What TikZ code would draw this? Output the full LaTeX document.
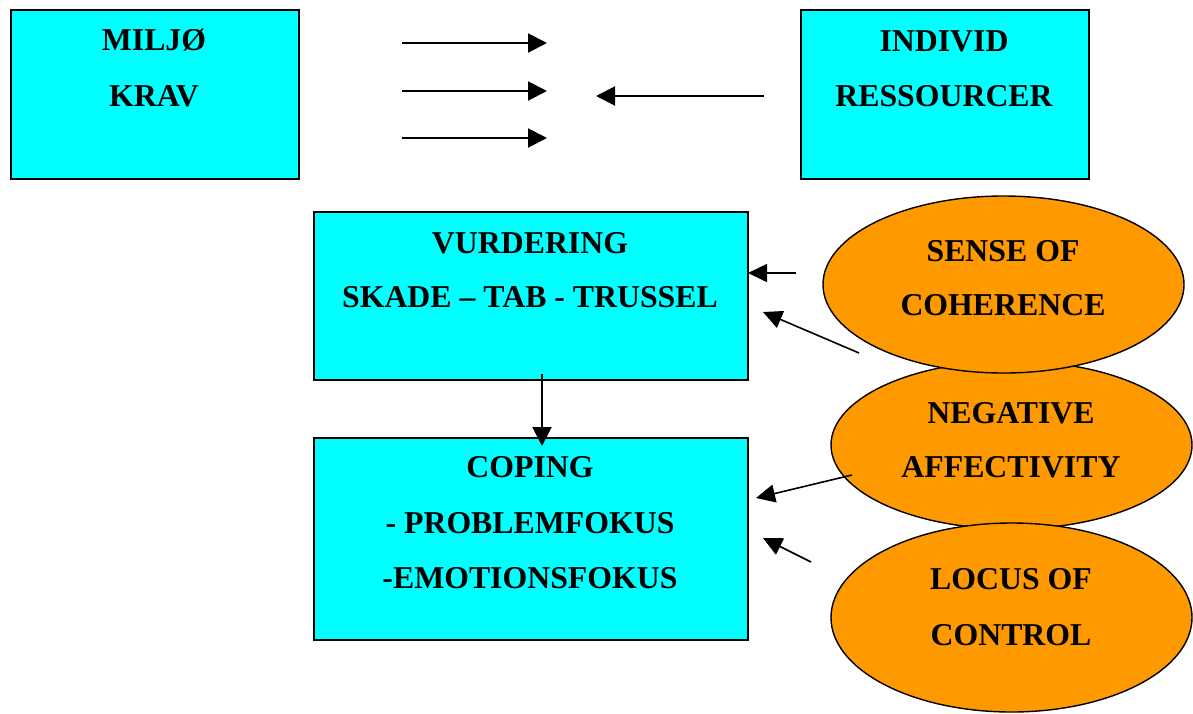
\documentclass[tikz,border=0pt]{standalone}
\usepackage{fontspec}
\setmainfont{Liberation Serif}
\usetikzlibrary{arrows.meta,shapes.geometric}
\definecolor{boxcyan}{HTML}{00FFFF}
\definecolor{ovalorange}{HTML}{FF9900}
\tikzset{
  box/.style={draw=black, line width=2pt, fill=boxcyan, anchor=north west, inner sep=0pt},
  oval/.style={draw=black, line width=1.4pt, fill=ovalorange, ellipse, inner sep=0pt},
  lbl/.style={anchor=base, inner sep=0pt, font=\fontsize{31.8}{38}\selectfont\bfseries},
  arr/.style={line width=2pt, -{Triangle[length=19pt,width=19pt]}},
  thinarr/.style={line width=1.6pt, -{Triangle[length=19pt,width=18pt]}}
}
\begin{document}
\begin{tikzpicture}[x=1pt, y=-1pt]
\useasboundingbox (0,0) rectangle (1193,713);

% boxes
\node[box, minimum width=288pt, minimum height=169pt] (miljo) at (10,9) {};
\node[box, minimum width=288pt, minimum height=169pt] (individ) at (800,9) {};
\node[box, minimum width=434pt, minimum height=168pt] (vurd) at (313,211) {};
\node[box, minimum width=434pt, minimum height=202pt] (coping) at (313,437) {};

\node[lbl] (t1) at (154,50) {MILJØ};
\node[lbl] (t2) at (154,106) {KRAV};
\node[lbl] (t3) at (944,51) {INDIVID};
\node[lbl] (t4) at (944,106) {RESSOURCER};
\node[lbl] (t5) at (530,253) {VURDERING};
\node[lbl] (t6) at (530,307) {SKADE – TAB - TRUSSEL};
\node[lbl] (t7) at (530,477) {COPING};
\node[lbl] (t8) at (530,533) {- PROBLEMFOKUS};
\node[lbl] (t9) at (530,588) {-EMOTIONSFOKUS};

% ovals
\node[oval, minimum width=361pt, minimum height=168pt] (neg) at (1011.5,445) {};
\node[oval, minimum width=361pt, minimum height=177pt] (soc) at (1003.5,284.5) {};
\node[oval, minimum width=361pt, minimum height=189pt] (loc) at (1011.5,617.5) {};

\node[lbl] (t10) at (1003,261) {SENSE OF};
\node[lbl] (t11) at (1003,315) {COHERENCE};
\node[lbl] (t12) at (1011,423) {NEGATIVE};
\node[lbl] (t13) at (1011,477) {AFFECTIVITY};
\node[lbl] (t14) at (1011,589) {LOCUS OF};
\node[lbl] (t15) at (1011,645) {CONTROL};

% free arrow ends
\coordinate (a1s) at (402,43);  \coordinate (a1e) at (547,43);
\coordinate (a2s) at (402,91);  \coordinate (a2e) at (547,91);
\coordinate (a3s) at (402,138); \coordinate (a3e) at (547,138);
\coordinate (a4s) at (764,96);  \coordinate (a4e) at (596,96);
\coordinate (v1) at (542,374);  \coordinate (v2) at (542,446);
\coordinate (s1s) at (796,273); \coordinate (s1e) at (748,273);
\coordinate (s2s) at (859,353); \coordinate (s2e) at (763,312);
\coordinate (n1s) at (852,475); \coordinate (n1e) at (756,498);
\coordinate (l1s) at (811,562); \coordinate (l1e) at (763,538);

\draw[arr] (a1s) -- (a1e);
\draw[arr] (a2s) -- (a2e);
\draw[arr] (a3s) -- (a3e);
\draw[arr] (a4s) -- (a4e);
\draw[arr] (v1) -- (v2);
\draw[thinarr] (s1s) -- (s1e);
\draw[thinarr] (s2s) -- (s2e);
\draw[thinarr] (n1s) -- (n1e);
\draw[thinarr] (l1s) -- (l1e);
\end{tikzpicture}
\end{document}
